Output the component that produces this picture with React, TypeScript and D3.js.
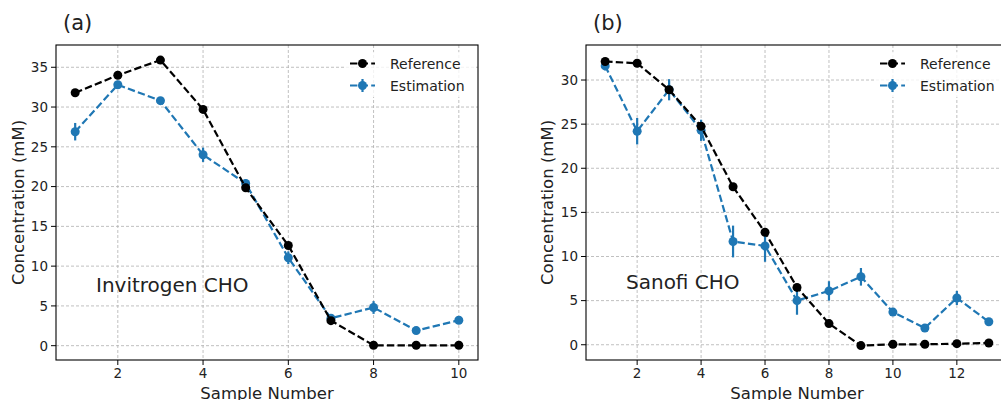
import * as d3 from "d3";

// panel (a) Invitrogen CHO
const samplesA = [1, 2, 3, 4, 5, 6, 7, 8, 9, 10];
const refA = [31.8, 34.0, 35.9, 29.7, 19.85, 12.6, 3.15, 0.05, 0.05, 0.05];
const estA = [26.9, 32.8, 30.8, 24.0, 20.4, 11.05, 3.45, 4.8, 1.9, 3.2];
const errA = [1.1, 0.4, 0.3, 0.9, 0.5, 0.8, 0.3, 0.8, 0.3, 0.3];
const yTicksA = [0, 5, 10, 15, 20, 25, 30, 35];
const xTicksA = [2, 4, 6, 8, 10];

// panel (b) Sanofi CHO
const samplesB = [1, 2, 3, 4, 5, 6, 7, 8, 9, 10, 11, 12, 13];
const refB = [32.1, 31.9, 28.9, 24.75, 17.9, 12.75, 6.5, 2.4, -0.1, 0.05, 0.05, 0.12, 0.2];
const estB = [31.6, 24.2, 28.9, 24.3, 11.7, 11.2, 5.0, 6.1, 7.7, 3.7, 1.9, 5.3, 2.6];
const errB = [0.5, 1.5, 1.2, 1.2, 1.8, 1.8, 1.6, 1.1, 1.0, 0.4, 0.3, 0.8, 0.4];
const yTicksB = [0, 5, 10, 15, 20, 25, 30];
const xTicksB = [2, 4, 6, 8, 10, 12];

const BLUE = "#1f77b4";
const FONT = "DejaVu Sans, sans-serif";

type PanelProps = {
  letter: string;
  label: string;
  samples: number[];
  ref: number[];
  est: number[];
  err: number[];
  xTicks: number[];
  yTicks: number[];
  xDomain: [number, number];
  yDomain: [number, number];
  left: number;
  right: number;
  ylabelX: number;
  textX: number;
  textY: number;
  legendX: number;
};

const top = 45;
const bottom = 360;

function Panel(p: PanelProps) {
  const x = d3.scaleLinear().domain(p.xDomain).range([p.left, p.right]);
  const y = d3.scaleLinear().domain(p.yDomain).range([bottom, top]);
  const line = d3
    .line<number>()
    .x((_, i) => x(p.samples[i]))
    .y((d) => y(d));
  const clipId = `clip-${p.letter}`;
  const lx = p.legendX;

  return (
    <g>
      <defs>
        <clipPath id={clipId}>
          <rect x={p.left} y={top} width={p.right - p.left} height={bottom - top} />
        </clipPath>
      </defs>
      {/* grid */}
      {p.xTicks.map((t) => (
        <line key={"gx" + t} x1={x(t)} x2={x(t)} y1={top} y2={bottom}
          stroke="#b0b0b0" strokeWidth={0.8} strokeDasharray="3,2" />
      ))}
      {p.yTicks.map((t) => (
        <line key={"gy" + t} x1={p.left} x2={p.right} y1={y(t)} y2={y(t)}
          stroke="#b0b0b0" strokeWidth={0.8} strokeDasharray="3,2" />
      ))}
      <g clipPath={`url(#${clipId})`}>
        {/* estimation */}
        <path d={line(p.est) || ""} fill="none" stroke={BLUE} strokeWidth={2.2} strokeDasharray="7.4,3.2" />
        {p.est.map((v, i) => (
          <line key={"e" + i} x1={x(p.samples[i])} x2={x(p.samples[i])}
            y1={y(v - p.err[i])} y2={y(v + p.err[i])} stroke={BLUE} strokeWidth={2.2} />
        ))}
        {p.est.map((v, i) => (
          <circle key={"m" + i} cx={x(p.samples[i])} cy={y(v)} r={4.5} fill={BLUE} />
        ))}
        {/* reference */}
        <path d={line(p.ref) || ""} fill="none" stroke="#000" strokeWidth={2.2} strokeDasharray="7.4,3.2" />
        {p.ref.map((v, i) => (
          <circle key={"r" + i} cx={x(p.samples[i])} cy={y(v)} r={4.5} fill="#000" />
        ))}
      </g>
      {/* frame */}
      <rect x={p.left} y={top} width={p.right - p.left} height={bottom - top}
        fill="none" stroke="#000" strokeWidth={1.1} />
      {/* x ticks */}
      {p.xTicks.map((t) => (
        <g key={"xt" + t}>
          <line x1={x(t)} x2={x(t)} y1={bottom} y2={bottom + 5} stroke="#000" strokeWidth={1} />
          <text x={x(t)} y={378} textAnchor="middle" fontSize={13.5} fill="#222" fontFamily={FONT}>{t}</text>
        </g>
      ))}
      {p.yTicks.map((t) => (
        <g key={"yt" + t}>
          <line x1={p.left - 5} x2={p.left} y1={y(t)} y2={y(t)} stroke="#000" strokeWidth={1} />
          <text x={p.left - 8} y={y(t)} dy="0.36em" textAnchor="end" fontSize={13.5} fill="#222" fontFamily={FONT}>{t}</text>
        </g>
      ))}
      {/* axis labels */}
      <text x={(p.left + p.right) / 2} y={399} textAnchor="middle" fontSize={16.5}
        fill="#222" fontFamily={FONT}>Sample Number</text>
      <text transform={`translate(${p.ylabelX},${(top + bottom) / 2}) rotate(-90)`} textAnchor="middle"
        fontSize={16.5} fill="#222" fontFamily={FONT}>Concentration (mM)</text>
      {/* panel title */}
      <text x={p.left + 7} y={30} fontSize={21} fill="#222" fontFamily={FONT}>{`(${p.letter})`}</text>
      <text x={p.textX} y={p.textY} fontSize={20} fill="#222" fontFamily={FONT}>{p.label}</text>
      {/* legend */}
      <rect x={lx - 6} y={52} width={130} height={45} fill="#fff" opacity={0.8} />
      <line x1={lx} x2={lx + 25} y1={63.5} y2={63.5} stroke="#000" strokeWidth={2.2} strokeDasharray="7.4,3.2" />
      <circle cx={lx + 12.5} cy={63.5} r={4.5} fill="#000" />
      <text x={lx + 40} y={63.5} dy="0.36em" fontSize={14} fill="#222" fontFamily={FONT}>Reference</text>
      <line x1={lx} x2={lx + 25} y1={85.5} y2={85.5} stroke={BLUE} strokeWidth={2.2} strokeDasharray="7.4,3.2" />
      <line x1={lx + 12.5} x2={lx + 12.5} y1={79} y2={92} stroke={BLUE} strokeWidth={2.2} />
      <circle cx={lx + 12.5} cy={85.5} r={4.5} fill={BLUE} />
      <text x={lx + 40} y={85.5} dy="0.36em" fontSize={14} fill="#222" fontFamily={FONT}>Estimation</text>
    </g>
  );
}

export default function App() {
  return (
    <svg width={1001} height={400} style={{ position: "absolute", left: 0, top: 0, background: "#fff" }}>
      <Panel letter="a" label="Invitrogen CHO" samples={samplesA} ref={refA} est={estA} err={errA}
        xTicks={xTicksA} yTicks={yTicksA} xDomain={[0.55, 10.45]} yDomain={[-1.8, 37.8]}
        left={56} right={478} ylabelX={24} textX={96} textY={292} legendX={350} />
      <Panel letter="b" label="Sanofi CHO" samples={samplesB} ref={refB} est={estB} err={errB}
        xTicks={xTicksB} yTicks={yTicksB} xDomain={[0.4, 13.6]} yDomain={[-1.73, 33.97]}
        left={586} right={1008} ylabelX={553} textX={626} textY={288.5} legendX={880} />
    </svg>
  );
}
